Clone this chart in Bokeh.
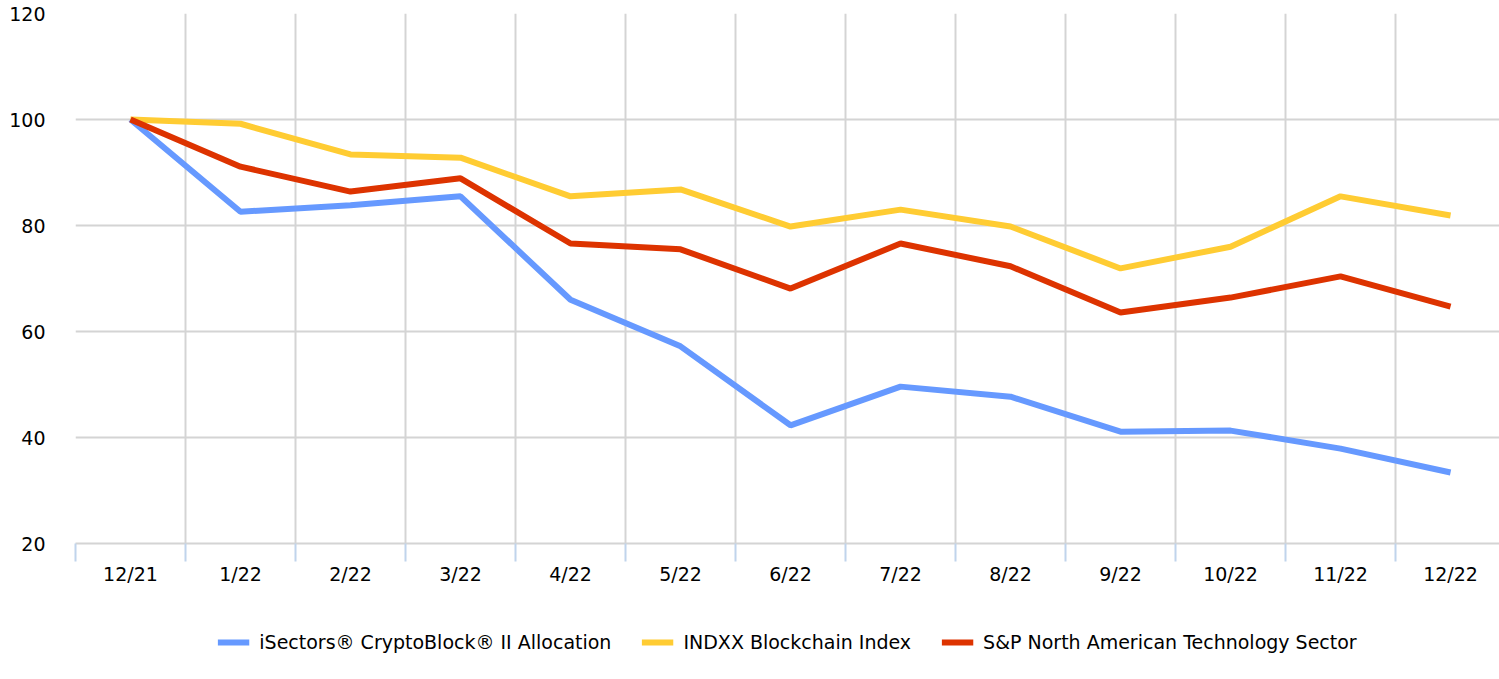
from bokeh.plotting import figure
from bokeh.models import FixedTicker, Range1d, Legend, LegendItem
from bokeh.layouts import column
from bokeh.embed import file_html
from bokeh.resources import INLINE

months = ["12/21", "1/22", "2/22", "3/22", "4/22", "5/22", "6/22",
          "7/22", "8/22", "9/22", "10/22", "11/22", "12/22"]
isectors = [100, 82.6, 83.8, 85.5, 66.0, 57.2, 42.3, 49.6, 47.7, 41.1, 41.3, 37.9, 33.4]
indxx = [100, 99.2, 93.4, 92.8, 85.5, 86.8, 79.8, 83.0, 79.8, 71.9, 76.0, 85.5, 81.9]
spnat = [100, 91.1, 86.4, 88.9, 76.6, 75.5, 68.1, 76.6, 72.3, 63.6, 66.4, 70.4, 64.7]
y_ticks = [20, 40, 60, 80, 100, 120]

names = ["iSectors® CryptoBlock® II Allocation", "INDXX Blockchain Index",
         "S&P North American Technology Sector"]
colors = ["#6699ff", "#ffcc33", "#dd3300"]

FONT = "DejaVu Sans"
FS = "19px"
xs = list(range(len(months)))
bounds = [i - 0.5 for i in range(len(months) + 1)]
series = [isectors, indxx, spnat]

p = figure(frame_width=1424, frame_height=530, output_backend="svg", toolbar_location=None,
           x_range=Range1d(-0.5, 12.445), y_range=Range1d(20, 120),
           min_border_top=13, min_border_left=75, min_border_right=0, min_border_bottom=0)
p.outline_line_color = None

# x axis
p.xaxis.ticker = FixedTicker(ticks=xs, minor_ticks=bounds)
p.xaxis.major_label_overrides = {i: m for i, m in enumerate(months)}
p.xaxis.major_tick_line_color = None
p.xaxis.major_tick_in = 0
p.xaxis.major_tick_out = 0
p.xaxis.minor_tick_in = 0
p.xaxis.minor_tick_out = 18
p.xaxis.minor_tick_line_color = "#c0d4ec"
p.xaxis.minor_tick_line_width = 2
p.xaxis.axis_line_color = "#d4d4d4"
p.xaxis.axis_line_width = 2
p.xaxis.major_label_text_font = FONT
p.xaxis.major_label_text_font_size = FS
p.xaxis.major_label_text_color = "#000000"
p.xaxis.major_label_standoff = 1

# y axis
p.yaxis.ticker = FixedTicker(ticks=y_ticks)
p.yaxis.axis_line_color = None
p.yaxis.major_tick_line_color = None
p.yaxis.major_tick_in = 0
p.yaxis.major_tick_out = 0
p.yaxis.minor_tick_line_color = None
p.yaxis.major_label_text_font = FONT
p.yaxis.major_label_text_font_size = FS
p.yaxis.major_label_text_color = "#000000"
p.yaxis.major_label_standoff = 30

p.xgrid.ticker = FixedTicker(ticks=bounds)
p.xgrid.grid_line_color = "#d4d4d4"
p.xgrid.grid_line_width = 2
p.ygrid.grid_line_color = "#d4d4d4"
p.ygrid.grid_line_width = 2

for vals, c in zip(series, colors):
    p.line(xs, vals, line_color=c, line_width=6)

# legend strip below the chart (its series lie outside this strip's ranges)
leg = figure(width=1499, height=93, output_backend="svg", toolbar_location=None,
             x_axis_type=None, y_axis_type=None,
             x_range=Range1d(-100, -99), y_range=Range1d(-100, -99),
             min_border_top=0, min_border_left=0, min_border_right=0, min_border_bottom=0)
leg.outline_line_color = None
leg.grid.visible = False

items = []
for name, vals, c in zip(names, series, colors):
    r = leg.line(xs, vals, line_color=c, line_width=6)
    items.append(LegendItem(label=name, renderers=[r]))

legend = Legend(items=items, orientation="horizontal", location="top_center",
                label_text_font=FONT, label_text_font_size=FS,
                label_text_color="#000000", glyph_width=32,
                label_standoff=10, spacing=30, border_line_color=None,
                background_fill_alpha=0, margin=44, padding=0)
leg.add_layout(legend, "center")

open("out.html", "w").write(file_html(column(p, leg, spacing=0), INLINE))
